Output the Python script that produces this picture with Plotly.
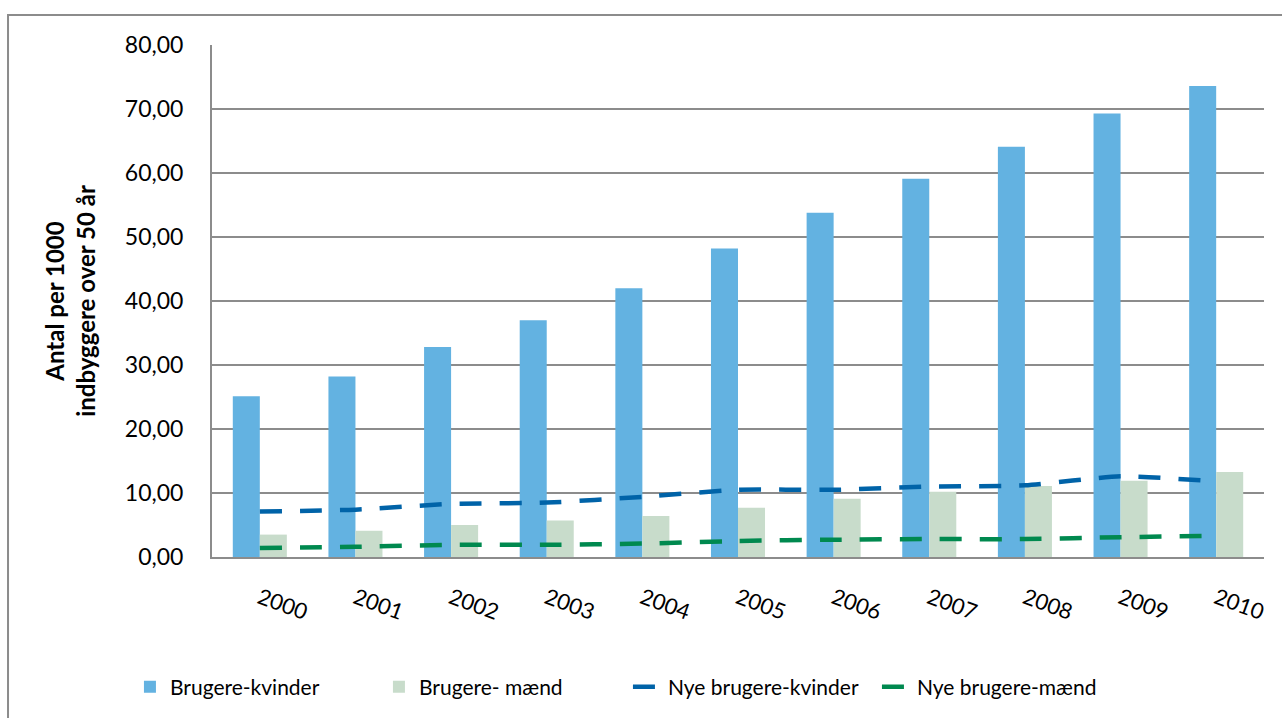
import plotly.graph_objects as go

# Antal brugere og nye brugere per 1000 indbyggere over 50 år
years = ["2000", "2001", "2002", "2003", "2004", "2005",
         "2006", "2007", "2008", "2009", "2010"]
brugere_kvinder = [25.1, 28.2, 32.8, 37.0, 42.0, 48.2, 53.8, 59.1, 64.1, 69.3, 73.6]
brugere_maend = [3.5, 4.1, 5.0, 5.7, 6.4, 7.7, 9.1, 10.2, 11.1, 11.9, 13.3]
nye_kvinder = [7.1, 7.4, 8.3, 8.5, 9.4, 10.5, 10.5, 11.0, 11.2, 12.6, 11.8]
nye_maend = [1.4, 1.6, 1.9, 1.9, 2.1, 2.5, 2.7, 2.8, 2.8, 3.1, 3.3]

y_ticks = [0, 10, 20, 30, 40, 50, 60, 70, 80]

FONT = "Lato, 'Open Sans', sans-serif"
GRID = "#8C8C8C"

fig = go.Figure()
fig.add_trace(go.Bar(x=years, y=brugere_kvinder, name="Brugere-kvinder",
                     marker=dict(color="#63B2E1", line=dict(width=0))))
fig.add_trace(go.Bar(x=years, y=brugere_maend, name="Brugere- mænd",
                     marker=dict(color="#C8DCCB", line=dict(width=0))))
fig.add_trace(go.Scatter(x=years, y=nye_kvinder, name="Nye brugere-kvinder",
                         mode="lines",
                         line=dict(color="#0063A8", width=4.5, dash="22px,18px",
                                   shape="spline", smoothing=0.6)))
fig.add_trace(go.Scatter(x=years, y=nye_maend, name="Nye brugere-mænd",
                         mode="lines",
                         line=dict(color="#00894F", width=4.5, dash="22px,18px",
                                   shape="spline", smoothing=0.6)))

# outer chart frame
fig.add_shape(type="rect", xref="paper", yref="paper",
              x0=-0.1939, x1=1.03, y0=-0.33, y1=1.0585,
              line=dict(color=GRID, width=2), fillcolor="rgba(0,0,0,0)",
              layer="below")

fig.update_layout(
    width=1282, height=718,
    margin=dict(l=212, r=18, t=45, b=160),
    paper_bgcolor="white", plot_bgcolor="white",
    separators=",.",
    barmode="group", bargap=0.435, bargroupgap=0,
    font=dict(family=FONT, color="black"),
    showlegend=True,
    legend=dict(orientation="h", x=-0.078, xanchor="left",
                y=-0.2515, yanchor="middle",
                font=dict(size=21, family=FONT),
                entrywidth=204, entrywidthmode="pixels",
                bgcolor="rgba(0,0,0,0)"),
    xaxis=dict(type="category", tickangle=20, showgrid=False,
               showline=True, linecolor=GRID, linewidth=2, ticks="",
               tickfont=dict(size=22, family=FONT),
               ticklabelstandoff=18, fixedrange=True),
    yaxis=dict(range=[0, 80], tickvals=y_ticks, tickformat=".2f",
               showgrid=True, gridcolor=GRID, gridwidth=2,
               showline=True, linecolor=GRID, linewidth=2, ticks="",
               zeroline=False,
               tickfont=dict(size=23, family=FONT),
               ticklabelstandoff=22,
               title=dict(text="<b>Antal per 1000<br>indbyggere over 50 år</b>",
                          font=dict(size=24, family=FONT), standoff=22)),
)

fig.write_html("out.html")
